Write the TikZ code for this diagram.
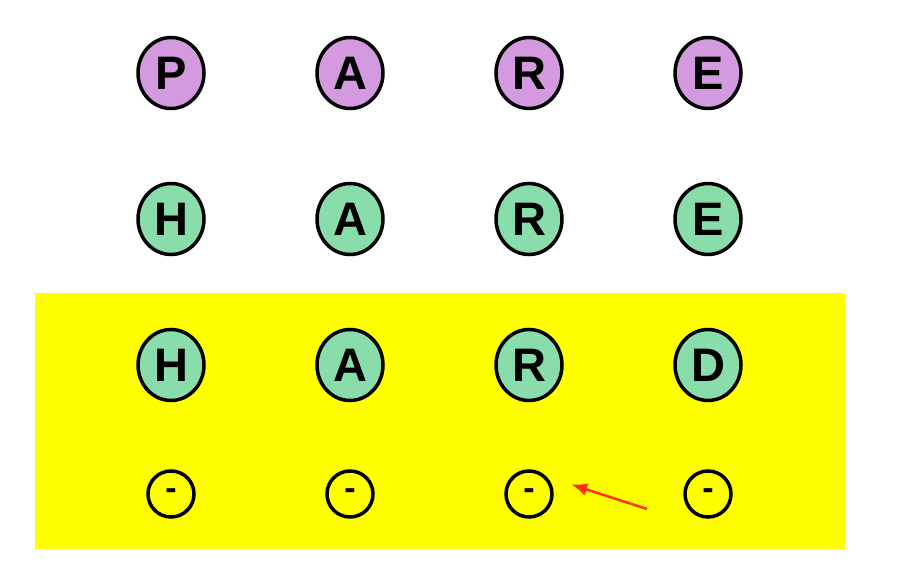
\documentclass[tikz,border=0pt]{standalone}
\usepackage{fontspec}
\setmainfont{Liberation Sans}
\usetikzlibrary{arrows.meta,shapes.geometric}

\definecolor{lilac}{HTML}{D49AE0}
\definecolor{mint}{HTML}{88DDAA}
\definecolor{bgyellow}{HTML}{FFFF00}
\definecolor{arrowred}{HTML}{FF3010}

\begin{document}
\begin{tikzpicture}[x=1pt,y=1pt,
	letter/.style={ellipse,draw,line width=3.5pt,minimum width=66pt,minimum height=71pt,inner sep=0pt,font=\fontsize{47}{47}\selectfont\bfseries},
	old/.style={letter,fill=lilac},
	new/.style={letter,fill=mint},
	slot/.style={circle,draw,line width=3.5pt,minimum size=46pt,inner sep=0pt,font=\fontsize{34}{34}\selectfont\bfseries}]
	\useasboundingbox (0,0) rectangle (899,-569);
	\fill[bgyellow] (35,-293) rectangle (845,-549);
	\node[old] (p1) at (171,-73) {P};
	\node[old] (p2) [node distance = 179pt] [right of = p1] {A};
	\node[old] (p3) [node distance = 179pt] [right of = p2] {R};
	\node[old] (p4) [node distance = 179pt] [right of = p3] {E};
	\node[new] (h1) [node distance = 146pt] [below of = p1] {H};
	\node[new] (h2) [node distance = 146pt] [below of = p2] {A};
	\node[new] (h3) [node distance = 146pt] [below of = p3] {R};
	\node[new] (h4) [node distance = 146pt] [below of = p4] {E};
	\node[new] (d1) [node distance = 146pt] [below of = h1] {H};
	\node[new] (d2) [node distance = 146pt] [below of = h2] {A};
	\node[new] (d3) [node distance = 146pt] [below of = h3] {R};
	\node[new] (d4) [node distance = 146pt] [below of = h4] {D};
	\node[slot] (s1) [node distance = 129pt] [below of = d1] {-};
	\node[slot] (s2) [node distance = 129pt] [below of = d2] {-};
	\node[slot] (s3) [node distance = 129pt] [below of = d3] {-};
	\node[slot] (s4) [node distance = 129pt] [below of = d4] {-};
	\coordinate (tail) at (647,-509);
	\draw[arrowred,line width=2.5pt,-{Latex[length=16pt,width=13pt]},shorten >=26pt] (tail) -- (s3.north east);
\end{tikzpicture}
\end{document}
